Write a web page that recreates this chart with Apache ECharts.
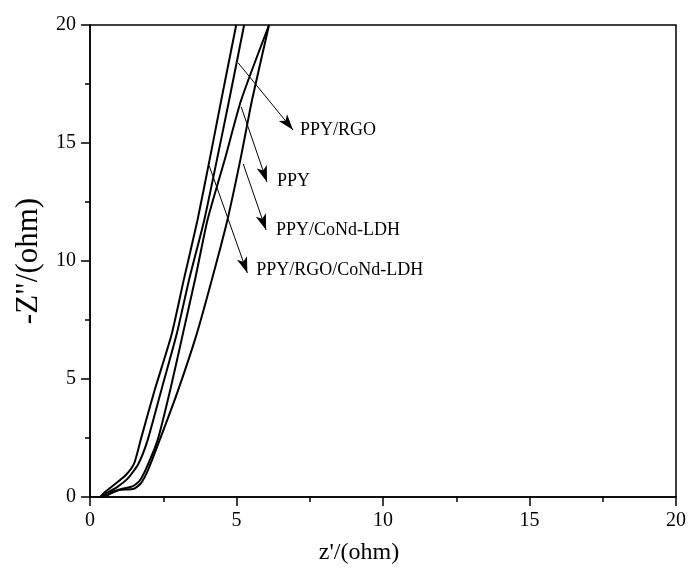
<!DOCTYPE html>
<html>
<head>
<meta charset="utf-8">
<script src="https://cdn.jsdelivr.net/npm/echarts@6/dist/echarts.min.js"></script>
<style>
  html, body { margin: 0; padding: 0; background: #fff; }
  #chart { width: 689px; height: 571px; }
</style>
</head>
<body>
<div id="chart"></div>
<script>
var chart = echarts.init(document.getElementById('chart'));

// Nyquist curves, [z', -z'']
var ppyRgoCoNd = [[0.35,0],[0.5,0.2],[0.8,0.5],[1.2,0.9],[1.5,1.4],[1.73,2.42],[2.2,4.5],[2.78,6.86],[3.2,9.2],[3.67,11.74],[4.1,14.4],[4.48,16.82],[4.99,20]];
var ppyRgo = [[0.4,0],[0.55,0.15],[0.9,0.4],[1.3,0.8],[1.65,1.4],[1.97,2.42],[2.45,4.6],[2.95,6.86],[3.4,9.3],[3.9,11.74],[4.35,14.4],[4.75,16.82],[5.26,20]];
var ppy = [[0.5,0],[0.75,0.2],[1.1,0.35],[1.45,0.45],[1.7,0.7],[1.95,1.3],[2.31,2.42],[2.75,4.6],[3.16,6.86],[3.6,9.3],[4.01,11.74],[4.6,14.3],[5.16,16.82],[6.11,20]];
var ppyCoNd = [[0.45,0],[0.7,0.15],[1.0,0.3],[1.5,0.35],[1.75,0.6],[2.0,1.2],[2.38,2.42],[3.0,4.5],[3.63,6.86],[4.2,9.4],[4.69,11.74],[5.15,14.4],[5.53,16.82],[6.11,20]];

// annotation arrows: from, to, label position
var notes = [
  {name: 'PPY/RGO', from: [5.06,18.39], to: [6.93,15.55], at: [7.17,15.55]},
  {name: 'PPY', from: [5.16,16.53], to: [6.04,13.35], at: [6.38,13.39]},
  {name: 'PPY/CoNd-LDH', from: [5.23,14.11], to: [6.01,11.31], at: [6.35,11.31]},
  {name: 'PPY/RGO/CoNd-LDH', from: [4.07,14.03], to: [5.37,9.49], at: [5.67,9.62]}
];

var font = 'Liberation Serif';

function curve(name, data) {
  return {
    name: name,
    type: 'line',
    data: data,
    symbol: 'none',
    smooth: 0.2,
    lineStyle: {color: '#000', width: 2},
    z: 3
  };
}

var option = {
  backgroundColor: '#fff',
  animation: false,
  grid: {left: 90, right: 10, top: 25, bottom: 74, show: true, borderColor: '#000', borderWidth: 1.5},
  xAxis: {
    type: 'value', min: 0, max: 20, interval: 5,
    name: "z'/(ohm)", nameLocation: 'middle', nameGap: 44,
    nameTextStyle: {fontFamily: font, fontSize: 24, color: '#000', padding: [0, 48, 0, 0]},
    axisLine: {lineStyle: {color: '#000', width: 1.5}},
    axisTick: {show: true, length: 9, lineStyle: {color: '#000', width: 1.5}},
    minorTick: {show: true, splitNumber: 2, length: 5, lineStyle: {color: '#000', width: 1.5}},
    splitLine: {show: false},
    axisLabel: {fontFamily: font, fontSize: 20, color: '#000', margin: 14}
  },
  yAxis: {
    type: 'value', min: 0, max: 20, interval: 5,
    name: '-Z"/(ohm)', nameLocation: 'middle', nameGap: 46,
    nameTextStyle: {fontFamily: font, fontSize: 31, color: '#000'},
    axisLine: {lineStyle: {color: '#000', width: 1.5}},
    axisTick: {show: true, length: 9, lineStyle: {color: '#000', width: 1.5}},
    minorTick: {show: true, splitNumber: 2, length: 5, lineStyle: {color: '#000', width: 1.5}},
    splitLine: {show: false},
    axisLabel: {fontFamily: font, fontSize: 20, color: '#000', margin: 14}
  },
  series: [
    curve('PPY/RGO/CoNd-LDH', ppyRgoCoNd),
    curve('PPY/RGO', ppyRgo),
    curve('PPY', ppy),
    curve('PPY/CoNd-LDH', ppyCoNd),
    {
      type: 'scatter',
      data: [],
      silent: true,
      markLine: {
        silent: true,
        symbol: ['none', 'arrow'],
        symbolSize: [8, 16],
        label: {show: false},
        lineStyle: {color: '#000', width: 1, type: 'solid'},
        data: notes.map(n => [{coord: n.from}, {coord: n.to}])
      },
      markPoint: {
        silent: true,
        symbol: 'circle',
        symbolSize: 0,
        label: {
          show: true, position: 'right', distance: 0,
          fontFamily: font, fontSize: 18, color: '#000',
          formatter: p => p.name
        },
        data: notes.map(n => ({name: n.name, coord: n.at}))
      }
    }
  ]
};
chart.setOption(option);
</script>
</body>
</html>
